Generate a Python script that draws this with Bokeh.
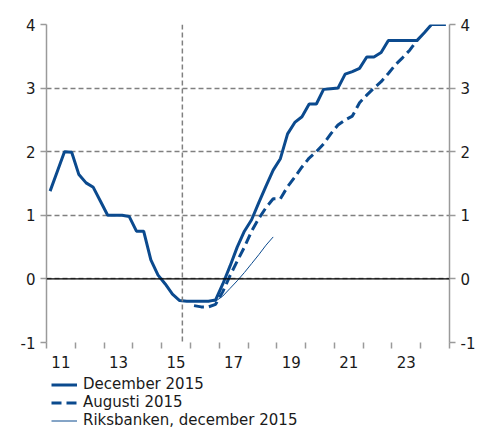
from bokeh.plotting import figure
from bokeh.layouts import column
from bokeh.models import (FixedTicker, Span, LinearAxis, Legend, LegendItem,
                          Range1d, CustomJSTickFormatter)
from bokeh.embed import file_html
from bokeh.resources import INLINE

# ---- data (quarterly, value in percent) ----
dec_start = "2011Q1"
december_2015 = [1.38, 1.69, 2.00, 1.99,
                 1.64, 1.51, 1.44, 1.22,
                 1.00, 1.00, 1.00, 0.98,
                 0.75, 0.75, 0.30, 0.06,
                 -0.08, -0.24, -0.34, -0.35,
                 -0.35, -0.35, -0.35, -0.33,
                 -0.08, 0.20, 0.50, 0.75,
                 0.93, 1.20, 1.46, 1.71,
                 1.89, 2.28, 2.46, 2.55,
                 2.75, 2.75, 2.98, 2.99,
                 3.00, 3.22, 3.26, 3.31,
                 3.49, 3.49, 3.56, 3.75,
                 3.75, 3.75, 3.75, 3.75,
                 3.87, 4.00, 4.00, 4.00]
aug_start = "2016Q1"
augusti_2015 = [-0.42, -0.44, -0.44, -0.40,
                -0.20, 0.05, 0.28, 0.50,
                0.75, 0.95, 1.12, 1.26,
                1.26, 1.45, 1.60, 1.76,
                1.90, 2.00, 2.12, 2.28,
                2.42, 2.50, 2.56, 2.77,
                2.89, 3.00, 3.10, 3.23,
                3.37, 3.48, 3.60, 3.75]
rb_start = "2015Q3"
riksbanken_dec_2015 = [-0.35, -0.35,
                       -0.35, -0.35, -0.35, -0.35,
                       -0.27, -0.15, -0.03, 0.10,
                       0.24, 0.38, 0.53, 0.66]
y_ticks = [-1, 0, 1, 2, 3, 4]
year_first, year_last = 2011, 2024
label_years = [2011, 2013, 2015, 2017, 2019, 2021, 2023]
legend_labels = ["December 2015", "Augusti 2015", "Riksbanken, december 2015"]
current_quarter_marker = 2015.72


def quarter_x(start, n):
    y, q = int(start[:4]), int(start[5])
    xs = []
    for i in range(n):
        qq = q - 1 + i
        xs.append(y + qq // 4 + ((qq % 4) + 0.5) / 4.0)
    return xs


series = [(dec_start, december_2015), (aug_start, augusti_2015),
          (rb_start, riksbanken_dec_2015)]

BLUE = "#0b4a8e"
GRID = "#808080"
AXC = "#9a9a9a"
FONT = "DejaVu Sans"
TXT = "#1a1a1a"

p = figure(width=489, height=370,
           x_range=Range1d(year_first, year_last + 1), y_range=Range1d(-1, 4),
           output_backend="svg", toolbar_location=None,
           min_border_left=46, min_border_right=40, min_border_top=24,
           min_border_bottom=24)
p.outline_line_color = None

# grids
p.xgrid.visible = False
p.ygrid.ticker = FixedTicker(ticks=y_ticks)
p.ygrid.grid_line_color = GRID
p.ygrid.grid_line_dash = "5 3"
p.ygrid.grid_line_width = 1.5

p.add_layout(Span(location=current_quarter_marker, dimension="height",
                  line_color=GRID, line_dash="5 3", line_width=1.5))
p.add_layout(Span(location=0, dimension="width", line_color="black",
                  line_width=1.3))

# axes
def style_y(ax):
    ax.ticker = FixedTicker(ticks=y_ticks)
    ax.formatter = CustomJSTickFormatter(code="return String(tick);")
    ax.major_tick_out = 6
    ax.major_tick_in = 0
    ax.minor_tick_out = 0
    ax.minor_tick_in = 0
    ax.axis_line_color = AXC
    ax.axis_line_width = 1.5
    ax.major_tick_line_color = AXC
    ax.major_tick_line_width = 1.5
    ax.major_label_text_font = FONT
    ax.major_label_text_font_size = "15px"
    ax.major_label_text_color = TXT
    ax.major_label_standoff = 5

style_y(p.yaxis[0])
right = LinearAxis()
style_y(right)
p.add_layout(right, "right")

xa = p.xaxis[0]
xa.ticker = FixedTicker(ticks=[y + 0.5 for y in label_years],
                        minor_ticks=list(range(year_first, year_last + 2)))
xa.formatter = CustomJSTickFormatter(code="return String(Math.floor(tick) % 100);")
xa.major_tick_out = 0
xa.major_tick_in = 0
xa.minor_tick_out = 6
xa.minor_tick_in = 0
xa.minor_tick_line_color = AXC
xa.minor_tick_line_width = 1.5
xa.axis_line_color = None
xa.major_label_text_font = FONT
xa.major_label_text_font_size = "15px"
xa.major_label_text_color = TXT
xa.major_label_standoff = 7

# lines (thin Riksbank first, then August, December on top)
line_styles = [dict(line_color=BLUE, line_width=3),
               dict(line_color=BLUE, line_width=3, line_dash="10 5"),
               dict(line_color=BLUE, line_width=1)]
for (start, vals), st in reversed(list(zip(series, line_styles))):
    p.line(quarter_x(start, len(vals)), vals, **st)

# legend in its own small figure below the chart; the series are drawn
# there too but fall outside its (0..1) ranges, so only the legend shows
lg = figure(width=489, height=59, output_backend="svg", toolbar_location=None,
            x_axis_type=None, y_axis_type=None,
            x_range=Range1d(0, 1), y_range=Range1d(0, 1),
            min_border_left=0, min_border_right=0, min_border_top=0,
            min_border_bottom=0)
lg.outline_line_color = None
lg.xgrid.visible = False
lg.ygrid.visible = False
items = []
for lab, (start, vals), st in zip(legend_labels, series, line_styles):
    r = lg.line(quarter_x(start, len(vals)), vals, **st)
    items.append(LegendItem(label=lab, renderers=[r]))
legend = Legend(items=items, location=(5, 0), orientation="vertical")
legend.border_line_color = None
legend.background_fill_alpha = 0
legend.label_text_font = FONT
legend.label_text_font_size = "15px"
legend.label_text_color = TXT
legend.glyph_width = 26
legend.glyph_height = 17
legend.label_height = 17
legend.label_standoff = 6
legend.spacing = 0
legend.padding = 0
legend.margin = 0
lg.add_layout(legend)

layout = column(p, lg, spacing=0)
open("out.html", "w").write(file_html(layout, INLINE))
